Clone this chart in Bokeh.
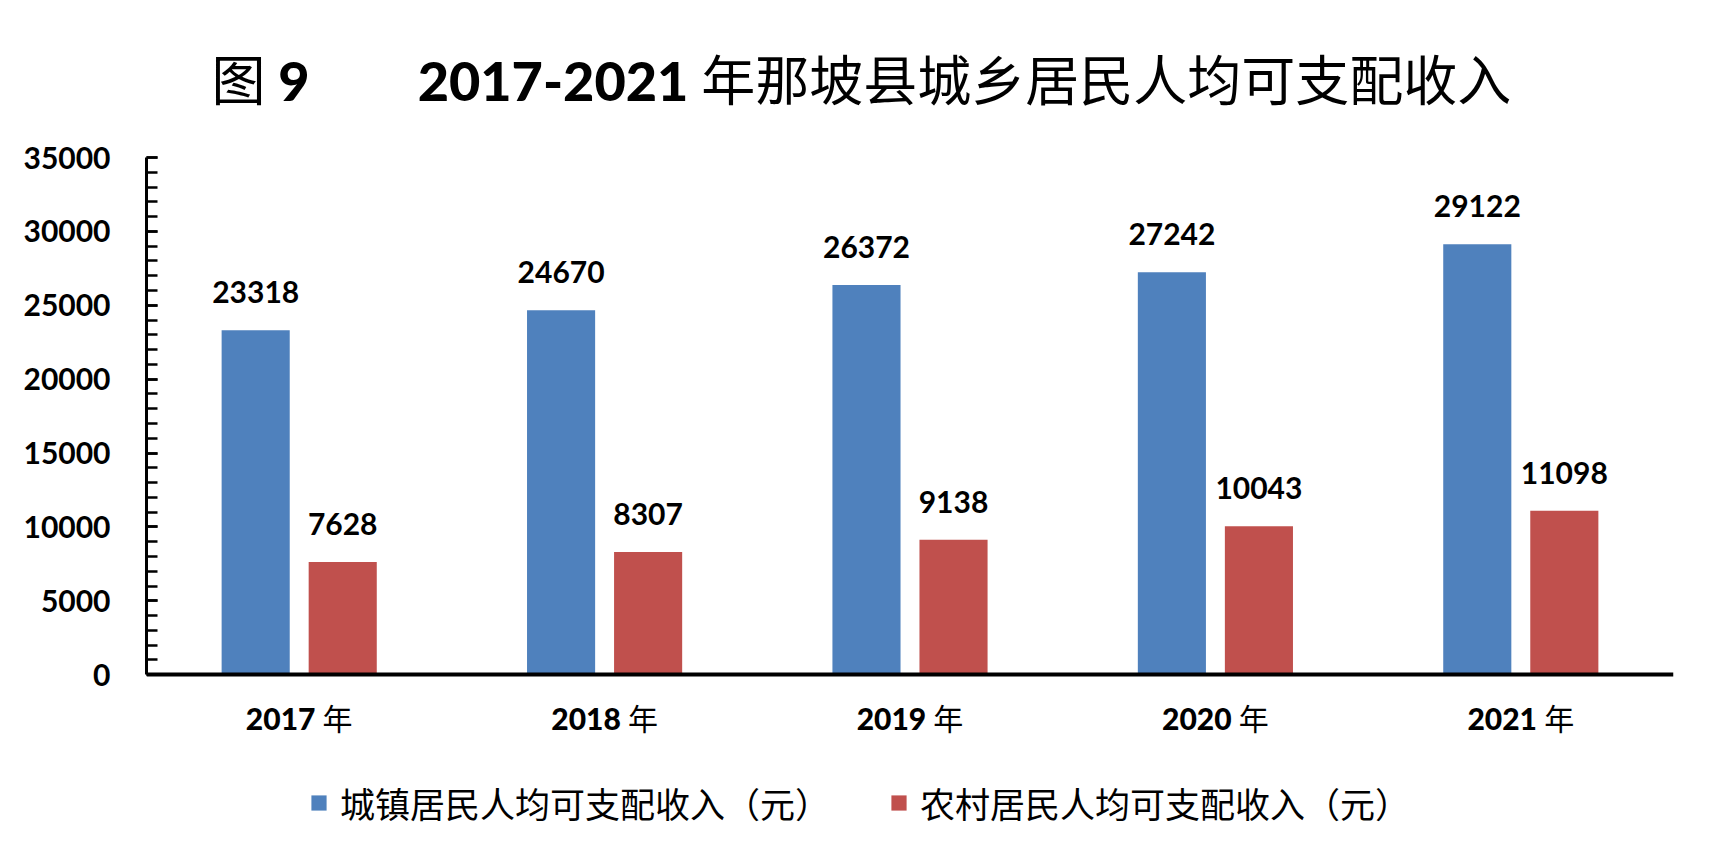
from bokeh.plotting import figure
from bokeh.models import (FactorRange, Range1d, ColumnDataSource, Legend, LegendItem, Title,
                          SingleIntervalTicker, NumeralTickFormatter)
from bokeh.transform import dodge
from bokeh.core.properties import value
from bokeh.embed import file_html
from bokeh.resources import INLINE

# ---- data ----
years = ["2017 年", "2018 年", "2019 年", "2020 年", "2021 年"]
urban = [23318, 24670, 26372, 27242, 29122]
rural = [7628, 8307, 9138, 10043, 11098]
series_names = ["城镇居民人均可支配收入（元）", "农村居民人均可支配收入（元）"]
title_parts = ["图 9", "2017-2021 年那坡县城乡居民人均可支配收入"]
y_max = 35000

BLUE = "#4F81BD"
RED = "#C0504D"
NUM_FONT = "Lato"
MIX_FONT = "'Lato Heavy', 'Lato Black', 'Noto Sans CJK SC'"
CJK_FONT = "'Noto Sans CJK SC'"

# ---- layout geometry (pixels) ----
W, H = 1706, 845
FRAME_TOP = 156          # pixel row of the 35000 line
ZERO_ROW = 674           # pixel row of the 0 line
BORDER_BOTTOM = 5
frame_bottom = H - BORDER_BOTTOM
# the frame extends below 0 so that the legend can live inside it
y_start = -y_max * (frame_bottom - ZERO_ROW) / (ZERO_ROW - FRAME_TOP)

src = ColumnDataSource(dict(
    year=years,
    urban=urban,
    rural=rural,
    urban_txt=[str(v) for v in urban],
    rural_txt=[str(v) for v in rural],
))

p = figure(x_range=FactorRange(factors=years, range_padding=0),
           y_range=Range1d(y_start, y_max),
           width=W, height=H,
           output_backend="svg", toolbar_location=None,
           min_border_left=146, min_border_right=33,
           min_border_top=FRAME_TOP, min_border_bottom=BORDER_BOTTOM)

p.xgrid.visible = False
p.ygrid.visible = False
p.outline_line_color = None

# title
p.title = Title(text=title_parts[0] + "\u3000\u3000" + title_parts[1],
                text_font=MIX_FONT, text_font_size="54px", text_font_style="normal",
                text_color="black", align="left", offset=65, standoff=90)

off = 0.1425
bw = 0.223
r1 = p.vbar(x=dodge("year", -off, range=p.x_range), top="urban", bottom=0, width=bw,
            source=src, fill_color=BLUE, line_color=None)
r2 = p.vbar(x=dodge("year", off, range=p.x_range), top="rural", bottom=0, width=bw,
            source=src, fill_color=RED, line_color=None)

for col, txt, o in (("urban", "urban_txt", -off), ("rural", "rural_txt", off)):
    p.text(x=dodge("year", o, range=p.x_range), y=col, text=txt, source=src,
           text_font=value(NUM_FONT), text_font_size="30px", text_font_style="bold",
           text_color="black", text_align="center", text_baseline="alphabetic",
           y_offset=-38)

# y axis
yax = p.yaxis[0]
yax.bounds = (0, y_max)
yax.ticker = SingleIntervalTicker(interval=5000, num_minor_ticks=5)
yax.formatter = NumeralTickFormatter(format="0")
yax.axis_line_width = 3
yax.axis_line_color = "black"
yax.major_tick_in = 11
yax.major_tick_out = 0
yax.minor_tick_in = 11
yax.minor_tick_out = 0
yax.major_tick_line_width = 2.5
yax.minor_tick_line_width = 2.5
yax.major_tick_line_color = "black"
yax.minor_tick_line_color = "black"
yax.major_label_standoff = 36
yax.major_label_text_font = NUM_FONT
yax.major_label_text_font_size = "30px"
yax.major_label_text_font_style = "bold"
yax.major_label_text_color = "black"

# x axis, drawn at y = 0
xax = p.xaxis[0]
xax.fixed_location = 0
xax.axis_line_width = 4
xax.axis_line_color = "black"
xax.major_tick_in = 0
xax.major_tick_out = 0
xax.major_label_standoff = 25
xax.major_label_text_font = MIX_FONT
xax.major_label_text_font_size = "30px"
xax.major_label_text_font_style = "normal"
xax.major_label_text_color = "black"

# legend (inside the frame, under the axis labels)
legend = Legend(items=[LegendItem(label=series_names[0], renderers=[r1]),
                       LegendItem(label=series_names[1], renderers=[r2])],
                orientation="horizontal", location=(163, 12),
                glyph_width=19, glyph_height=19, label_standoff=12, spacing=59,
                padding=0, margin=0, border_line_color=None, background_fill_alpha=0,
                label_text_font=CJK_FONT, label_text_font_size="35px",
                label_text_color="black")
p.add_layout(legend)

open("out.html", "w").write(file_html(p, INLINE))
